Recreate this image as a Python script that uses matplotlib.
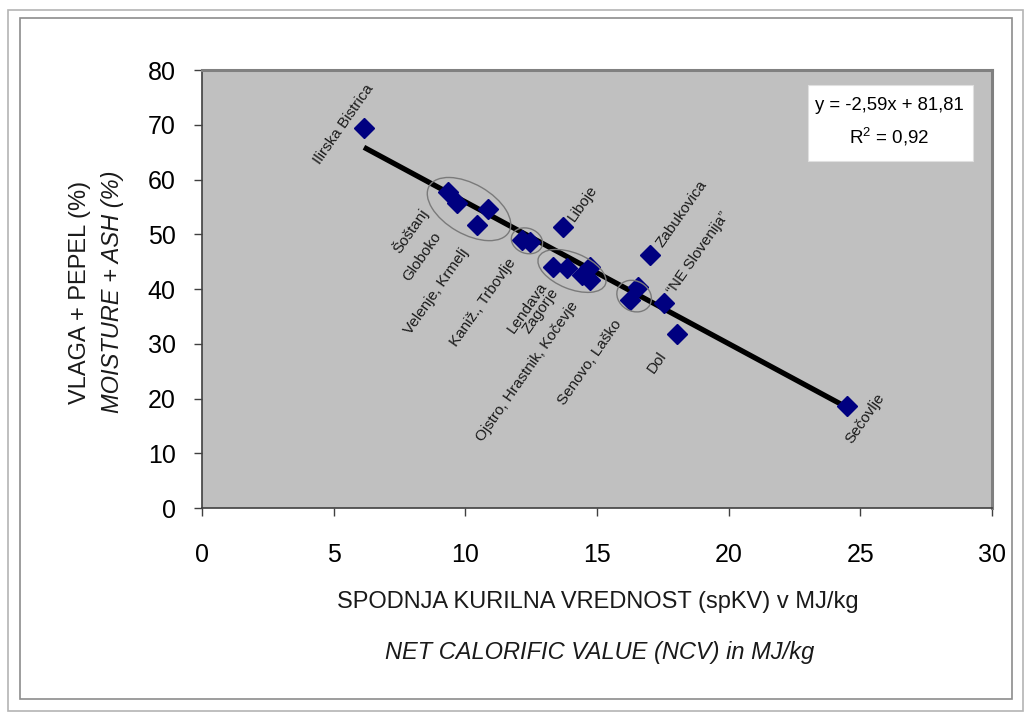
import matplotlib
matplotlib.use("Agg")
import matplotlib.pyplot as plt
import matplotlib.transforms as mtransforms
from matplotlib.patches import Ellipse, Rectangle
import numpy as np

plt.rcParams['font.family'] = ['Liberation Sans', 'DejaVu Sans']
plt.rcParams['mathtext.fontset'] = 'custom'
plt.rcParams['mathtext.rm'] = 'Liberation Sans'
plt.rcParams['mathtext.it'] = 'Liberation Sans:italic'

# ---- data ----
ncv = [6.15, 9.34, 9.68, 10.86, 10.44, 12.15, 12.46, 13.71, 13.33, 13.86,
       14.43, 14.74, 14.74, 16.56, 16.26, 17.0, 17.55, 18.04, 24.5]
moisture_ash = [69.4, 57.7, 55.7, 54.6, 51.7, 49.0, 48.6, 51.3, 44.0, 43.8,
                42.6, 44.0, 41.6, 40.4, 38.0, 46.2, 37.4, 31.8, 18.6]

trend_slope = -2.59
trend_intercept = 81.81
r_squared = 0.92

# label text, index of the anchoring point, offset in pixels (dx, dy)
label_texts = ["Ilirska Bistrica", "Šoštanj", "Globoko", "Velenje, Krmelj",
               "Kaniž., Trbovlje", "Lendava", "Zagorje",
               "Ojstro, Hrastnik, Kočevje", "Senovo, Laško", "Liboje",
               "Zabukovica", "\u201cNE Slovenija\u201d", "Dol", "Sečovlje"]
label_anchor = [0, 1, 2, 4, 5, 8, 9, 10, 14, 7, 15, 16, 17, 18]
label_offset = [(-20, 4), (-38, -39), (-35, -54), (-41, -66), (-39, -63),
                (-26, -41), (-26, -43), (-55, -97), (-40, -62), (20, 24),
                (32, 41), (34, 50), (-20, -28), (18, -12)]

# cluster ellipses: data centre, width/height in pixels, angle
ell_centers = [(10.14, 54.6), (12.34, 48.8), (14.05, 43.3), (16.41, 38.7)]
ell_sizes = [(92, 50, -30), (32, 25, -20), (72, 36, -22), (36, 30, -30)]

x_ticks = [0, 5, 10, 15, 20, 25, 30]
y_ticks = [0, 10, 20, 30, 40, 50, 60, 70, 80]

# ---- figure ----
W, H = 1031, 720
fig = plt.figure(figsize=(W / 100, H / 100), dpi=100)
fig.patch.set_facecolor('white')

# outer frames
fig.patches.append(Rectangle((8 / W, 9 / H), 1015 / W, 701 / H, transform=fig.transFigure,
                             fill=False, edgecolor='#b4b4b4', linewidth=1.2))
fig.patches.append(Rectangle((20 / W, 21 / H), 992 / W, 681 / H, transform=fig.transFigure,
                             fill=False, edgecolor='#8c8c8c', linewidth=1.2))

ax = fig.add_axes([202 / W, (H - 508) / H, 790 / W, 438 / H])
ax.set_facecolor('#c0c0c0')
ax.set_xlim(0, 30)
ax.set_ylim(0, 80)
ax.set_xticks(x_ticks)
ax.set_yticks(y_ticks)
ax.tick_params(labelsize=18, length=6, width=1, color='#404040')
ax.tick_params(axis='y', pad=13)
ax.tick_params(axis='x', pad=19)
for s in ['top', 'right']:
    ax.spines[s].set_color('#808080')
    ax.spines[s].set_linewidth(2.2)
for s in ['left', 'bottom']:
    ax.spines[s].set_color('#404040')
    ax.spines[s].set_linewidth(1.2)

# trend line
xs = np.array([min(ncv), max(ncv)])
ax.plot(xs, trend_slope * xs + trend_intercept, color='black', linewidth=3.8,
        solid_capstyle='butt', zorder=3)

# points
ax.plot(ncv, moisture_ash, linestyle='none', marker='D', markersize=10,
        color='#000080', markeredgecolor='#000080', zorder=4)

# ellipses (pixel sized, centred on data)
for (cx, cy), (w, h, ang) in zip(ell_centers, ell_sizes):
    tr = mtransforms.Affine2D() + mtransforms.ScaledTranslation(cx, cy, ax.transData)
    e = Ellipse((0, 0), w, h, angle=ang, transform=tr, fill=False,
                edgecolor='#7a7a7a', linewidth=1.0, zorder=5)
    ax.add_patch(e)

# labels
for txt, idx, (dx, dy) in zip(label_texts, label_anchor, label_offset):
    ax.annotate(txt, (ncv[idx], moisture_ash[idx]), xytext=(dx, dy),
                textcoords='offset pixels', rotation=55, rotation_mode='anchor',
                ha='center', va='center', fontsize=11, color='#1a1a1a', zorder=6)

# equation box
ax.add_patch(Rectangle((0.767, 0.792), 0.209, 0.1735, transform=ax.transAxes,
                       facecolor='white', edgecolor='#e0e0e0', linewidth=0.8, zorder=6))
ax.text(0.870, 0.920, "y = %sx + %s" % (str(trend_slope).replace('.', ','),
                                         str(trend_intercept).replace('.', ',')),
        transform=ax.transAxes, ha='center', va='center', fontsize=13.3, zorder=7)
ax.text(0.870, 0.848, "R$^2$ = %s" % str(r_squared).replace('.', ','),
        transform=ax.transAxes, ha='center', va='center', fontsize=13.5, zorder=7)

# axis titles
fig.text(598 / W, 1 - 602 / H, "SPODNJA KURILNA VREDNOST (spKV) v MJ/kg",
         ha='center', va='center', fontsize=17, color='#1a1a1a')
fig.text(600 / W, 1 - 652 / H, "NET CALORIFIC VALUE (NCV) in MJ/kg",
         ha='center', va='center', fontsize=17, style='italic', color='#1a1a1a')
fig.text(80 / W, 1 - 292 / H, "VLAGA + PEPEL (%)", rotation=90,
         ha='center', va='center', fontsize=17, color='#1a1a1a')
fig.text(112 / W, 1 - 292 / H, "MOISTURE + ASH (%)", rotation=90,
         ha='center', va='center', fontsize=17, style='italic', color='#1a1a1a')

fig.savefig("out.png", dpi=100)
